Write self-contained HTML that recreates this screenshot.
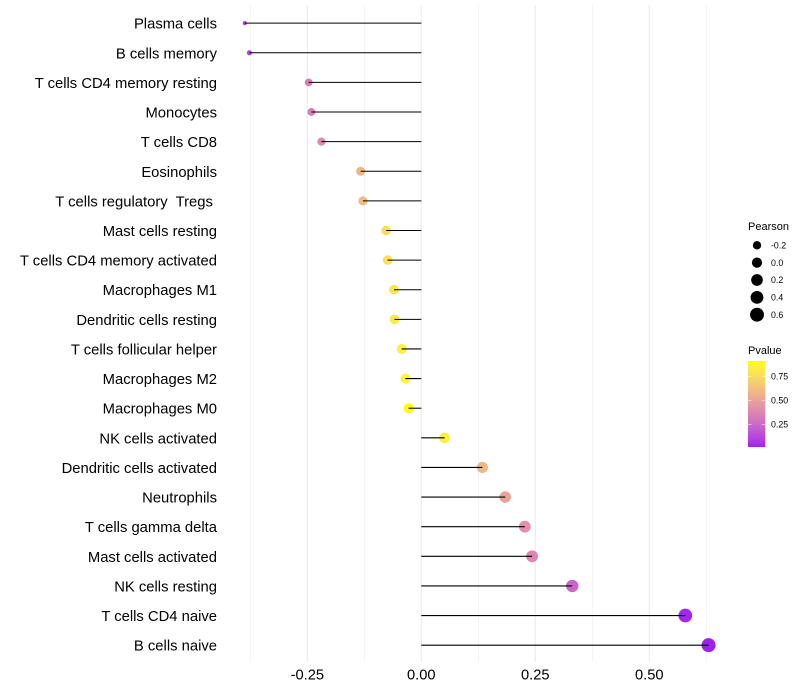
<!DOCTYPE html>
<html>
<head>
<meta charset="utf-8">
<style>
html,body{margin:0;padding:0;background:#fff;}
svg{display:block;font-family:"Liberation Sans",Arial,sans-serif;}
text{white-space:pre;}
</style>
</head>
<body>
<svg id="chart" width="800" height="700" viewBox="0 0 800 700" xmlns="http://www.w3.org/2000/svg"></svg>
<script>
const categories = ["Plasma cells","B cells memory","T cells CD4 memory resting","Monocytes","T cells CD8","Eosinophils","T cells regulatory  Tregs ","Mast cells resting","T cells CD4 memory activated","Macrophages M1","Dendritic cells resting","T cells follicular helper","Macrophages M2","Macrophages M0","NK cells activated","Dendritic cells activated","Neutrophils","T cells gamma delta","Mast cells activated","NK cells resting","T cells CD4 naive","B cells naive"];
const pearson = [-0.387,-0.377,-0.247,-0.241,-0.219,-0.133,-0.128,-0.077,-0.074,-0.060,-0.059,-0.043,-0.035,-0.028,0.051,0.134,0.184,0.227,0.243,0.331,0.579,0.630];
const pvalue = [0.10,0.12,0.34,0.35,0.39,0.60,0.62,0.76,0.77,0.80,0.81,0.85,0.88,0.91,0.84,0.60,0.50,0.42,0.38,0.24,0.03,0.016];
const xTicks = [-0.25,0,0.25,0.5];
const xTickLabels = ["-0.25","0.00","0.25","0.50"];
const xMinorTicks = [-0.375,-0.125,0.125,0.375,0.625];
const sizeLegendValues = [-0.2,0,0.2,0.4,0.6];
const sizeLegendLabels = ["-0.2","0.0","0.2","0.4","0.6"];
const colorLegendValues = [0.25,0.5,0.75];
const colorLegendLabels = ["0.25","0.50","0.75"];

const NS = "http://www.w3.org/2000/svg";
const svg = document.getElementById("chart");
const panelTop = 5, panelBottom = 662;
const x = v => 421.3 + v * 456;
const y = i => 23.15 + i * 29.62;
const radius = v => 2.1 + 4.9 * Math.sqrt(Math.max(0, (v - (-0.387)) / 1.017));

function rgb2lab(c){
  const f = u => { u/=255; return u>0.04045?Math.pow((u+0.055)/1.055,2.4):u/12.92; };
  const r=f(c[0]),g=f(c[1]),b=f(c[2]);
  const X=(0.4124*r+0.3576*g+0.1805*b)/0.95047,Y=0.2126*r+0.7152*g+0.0722*b,Z=(0.0193*r+0.1192*g+0.9505*b)/1.08883;
  const h = t => t>0.008856?Math.cbrt(t):7.787*t+16/116;
  return [116*h(Y)-16,500*(h(X)-h(Y)),200*(h(Y)-h(Z))];
}
function lab2rgb(l){
  const fy=(l[0]+16)/116,fx=l[1]/500+fy,fz=fy-l[2]/200;
  const h = t => t*t*t>0.008856?t*t*t:(t-16/116)/7.787;
  const X=h(fx)*0.95047,Y=h(fy),Z=h(fz)*1.08883;
  const r=3.2406*X-1.5372*Y-0.4986*Z,g=-0.9689*X+1.8758*Y+0.0415*Z,b=0.0557*X-0.2040*Y+1.0570*Z;
  const f = u => { u=Math.max(0,Math.min(1,u)); return Math.round(255*(u>0.0031308?1.055*Math.pow(u,1/2.4)-0.055:12.92*u)); };
  return [f(r),f(g),f(b)];
}
const labLow = rgb2lab([160,32,240]), labHigh = rgb2lab([255,255,0]);
const pMin = 0.016, pMax = 0.911;
function colorAt(p){
  const t = Math.max(0,Math.min(1,(p-pMin)/(pMax-pMin)));
  const c = lab2rgb(labLow.map((a,k)=>a+(labHigh[k]-a)*t));
  return "rgb("+c.join(",")+")";
}
function add(tag, attrs, parent){
  const el = document.createElementNS(NS, tag);
  for (const k in attrs) el.setAttribute(k, attrs[k]);
  (parent||svg).appendChild(el);
  return el;
}

const grid = add("g", {});


xMinorTicks.forEach(v => {
  const l = add("line", {x1:x(v),x2:x(v),y1:panelTop,y2:panelBottom,stroke:"#ebebeb","stroke-width":0.55}, grid);
  
  
});
xTicks.forEach(v => {
  const l = add("line", {x1:x(v),x2:x(v),y1:panelTop,y2:panelBottom,stroke:"#ebebeb","stroke-width":1.07}, grid);
  
  
});

categories.forEach((name,i) => {
  const lab = add("text", {x:217,y:y(i)+5.5,"text-anchor":"end","font-size":"14.8px",fill:"#000"});
  lab.textContent = name;
  
  
  const c = add("circle", {cx:x(pearson[i]),cy:y(i),r:radius(pearson[i]),fill:colorAt(pvalue[i])});
  
  
});
categories.forEach((name,i) => {
  const s = add("line", {x1:x(0),x2:x(pearson[i]),y1:y(i),y2:y(i),stroke:"#000","stroke-width":1.07});
  
  
});

xTicks.forEach((v,i) => {
  const t = add("text", {x:x(v),y:679.5,"text-anchor":"middle","font-size":"14.67px",fill:"#000"});
  t.textContent = xTickLabels[i];
  
  
});

const sizeTitle = add("text", {x:748,y:230,"font-size":"11px",fill:"#000"});
sizeTitle.textContent = "Pearson";


const sizeY = k => 245.3 + k * 17.35;
sizeLegendValues.forEach((v,k) => {
  const c = add("circle", {cx:757,cy:sizeY(k),r:radius(v),fill:"#000"});
  
  
  const t = add("text", {x:771,y:sizeY(k)+3.2,"font-size":"8.8px",fill:"#000"});
  t.textContent = sizeLegendLabels[k];
  
  
});

const colorTitle = add("text", {x:748,y:354,"font-size":"11px",fill:"#000"});
colorTitle.textContent = "Pvalue";


const defs = add("defs", {});
const grad = add("linearGradient", {id:"pGrad",x1:0,y1:1,x2:0,y2:0}, defs);
for (let k=0;k<=20;k++){
  add("stop", {offset:(k/20),"stop-color":colorAt(pMin+(pMax-pMin)*k/20)}, grad);
}
const barTop = 361, barBottom = 447;
const bar = add("rect", {x:748,y:barTop,width:17.3,height:barBottom-barTop,fill:"url(#pGrad)"});


const colorY = p => barBottom - (p-pMin)/(pMax-pMin)*(barBottom-barTop);
colorLegendValues.forEach((v,k) => {
  [[748,751.5],[761.8,765.3]].forEach(e => {
    const tk = add("line", {x1:e[0],x2:e[1],y1:colorY(v),y2:colorY(v),stroke:"#fff","stroke-width":0.5});
    
    
  });
  const t = add("text", {x:771,y:colorY(v)+3.2,"font-size":"8.8px",fill:"#000"});
  t.textContent = colorLegendLabels[k];
  
  
});
</script>
</body>
</html>
